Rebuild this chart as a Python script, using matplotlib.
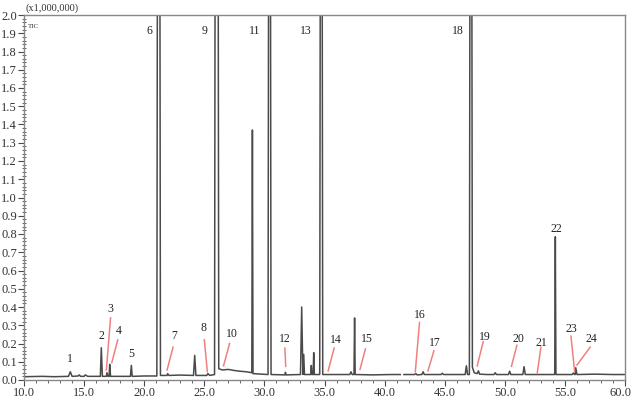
import numpy as np
import matplotlib.pyplot as plt
import matplotlib.transforms as mtransforms
from matplotlib.ticker import MultipleLocator

# trace: retention time (min) and intensity (x1,000,000)
tiempo = [10.0, 11.5, 12.5, 13.7, 13.85, 14.0, 14.5, 14.6, 14.7, 15.0, 15.1, 15.3,
          16.35, 16.43, 16.52, 16.85, 16.9, 16.98, 17.08, 17.13, 17.2,
          18.85, 18.93, 19.0, 20.0, 21.05, 21.1, 21.3, 21.35,
          21.9, 21.95, 22.05, 23.0, 24.1, 24.2, 24.3, 25.2, 25.3, 25.45,
          25.85, 25.9, 26.15, 26.2, 26.5, 27.0, 27.5, 28.0, 28.5, 28.95, 29.0, 29.05,
          30.3, 30.35, 30.5, 30.55, 31.7, 31.75, 31.8,
          33.0, 33.1, 33.2, 33.27, 33.33, 33.85, 33.9, 33.95, 34.05, 34.1, 34.15,
          34.6, 34.65, 34.8, 34.85, 36.0, 37.1, 37.2, 37.3, 37.45, 37.5, 37.55,
          39.0, 40.5, 41.3, 41.4, 41.6, 42.5, 42.6, 42.7, 43.1, 43.2, 43.3,
          44.7, 44.8, 44.9, 46.7, 46.8, 46.9, 47.05, 47.1, 47.25, 47.3, 47.45,
          47.7, 47.8, 47.9, 48.5, 49.1, 49.2, 49.3, 50.3, 50.4, 50.5,
          51.5, 51.6, 51.7, 53.0, 54.15, 54.2, 54.25, 55.6, 55.7, 55.8, 55.85,
          55.9, 56.0, 57.5, 59.0, 60.0]
intensidad = [0.018, 0.020, 0.018, 0.020, 0.045, 0.020, 0.022, 0.028, 0.020, 0.020, 0.028, 0.020,
              0.020, 0.177, 0.020, 0.020, 0.040, 0.020, 0.020, 0.086, 0.020,
              0.020, 0.080, 0.020, 0.022, 0.022, 2.5, 2.5, 0.025,
              0.025, 0.035, 0.025, 0.027, 0.025, 0.135, 0.025, 0.025, 0.035, 0.025,
              0.030, 2.5, 2.5, 0.062, 0.055, 0.058, 0.052, 0.048, 0.045, 0.040, 1.37, 0.035,
              0.030, 2.5, 2.5, 0.030, 0.028, 0.042, 0.028,
              0.030, 0.40, 0.030, 0.14, 0.030, 0.030, 0.080, 0.030, 0.030, 0.15, 0.030,
              0.030, 2.5, 2.5, 0.030, 0.030, 0.030, 0.045, 0.030, 0.030, 0.34, 0.030,
              0.028, 0.030, 0.030, np.nan, 0.030, 0.030, 0.035, 0.028, 0.030, 0.045, 0.030,
              0.030, 0.037, 0.030, 0.030, 0.078, 0.030, 0.030, 2.5, 2.5, 0.070, 0.040,
              0.035, 0.050, 0.032, 0.030, 0.030, 0.040, 0.030, 0.030, 0.048, 0.030,
              0.030, 0.073, 0.030, 0.030, 0.030, 0.785, 0.030, 0.030, 0.038, 0.030, 0.030,
              0.067, 0.030, 0.032, 0.030, 0.030]

# etiquetas de picos: numero, posicion del texto, y la linea roja (inicio, fin)
num_picos = ['1', '2', '5', '22']
pos_picos = [(13.85, 0.115), (16.4, 0.24), (18.95, 0.145), (54.25, 0.83)]

num_flechas = ['3', '4', '7', '8', '10', '12', '14', '15', '16', '17', '19', '20', '21', '23', '24']
pos_flechas = [(17.2, 0.39), (17.9, 0.27), (22.5, 0.24), (24.9, 0.285), (27.3, 0.25),
               (31.7, 0.225), (35.9, 0.22), (38.5, 0.225), (42.9, 0.355), (44.2, 0.205),
               (48.3, 0.235), (51.1, 0.225), (53.0, 0.205), (55.5, 0.28), (57.2, 0.225)]
linea_ini = [(17.2, 0.34), (17.8, 0.22), (22.4, 0.18), (25.0, 0.22), (27.1, 0.2),
             (31.7, 0.175), (35.8, 0.175), (38.4, 0.17), (42.9, 0.315), (44.1, 0.16),
             (48.2, 0.21), (51.0, 0.19), (53.0, 0.18), (55.5, 0.24), (57.1, 0.18)]
linea_fin = [(16.85, 0.055), (17.3, 0.095), (21.9, 0.055), (25.25, 0.045), (26.6, 0.078),
             (31.77, 0.075), (35.3, 0.05), (37.95, 0.058), (42.55, 0.045), (43.6, 0.05),
             (47.7, 0.077), (50.55, 0.075), (52.7, 0.04), (55.8, 0.05), (56.0, 0.082)]

num_altos = ['6', '9', '11', '13', '18']
pos_altos = [(20.7, 1.91), (25.3, 1.91), (29.7, 1.91), (33.9, 1.91), (46.55, 1.91)]

gris = '#4a4a4a'
fuente = 'Liberation Serif'

fig = plt.figure(figsize=(6.32, 4.0), dpi=100)
ax = fig.add_axes([0.038, 0.05, 0.951, 0.9125])
ax.plot(tiempo, intensidad, color=gris, lw=1.1)

for t, p in zip(num_picos, pos_picos):
    ax.text(p[0], p[1], t, ha='center', va='center', fontsize=8.5, family=fuente, color='#222222')
for t, p, a, b in zip(num_flechas, pos_flechas, linea_ini, linea_fin):
    ax.text(p[0], p[1], t, ha='center', va='center', fontsize=8.5, family=fuente, color='#222222')
    ax.plot([a[0], b[0]], [a[1], b[1]], color='#f08080', lw=1.1)
for t, p in zip(num_altos, pos_altos):
    ax.text(p[0], p[1], t, ha='right', va='center', fontsize=8.5, family=fuente, color='#222222')

ax.set_xlim(10, 60)
ax.set_ylim(0, 2.0)
ax.xaxis.set_minor_locator(MultipleLocator(1))
ax.yaxis.set_minor_locator(MultipleLocator(0.02))
ax.set_xticks(np.arange(10, 60.1, 5))
ax.set_xticklabels(['%.1f' % v for v in np.arange(10, 60.1, 5)])
ax.set_yticks(np.arange(0, 2.01, 0.1))
ax.set_yticklabels(['%.1f' % v for v in np.arange(0, 2.01, 0.1)])
for lab in ax.get_xticklabels() + ax.get_yticklabels():
    lab.set_family(fuente)
    lab.set_fontsize(9)
    lab.set_color('#333333')
ax.tick_params(which='major', length=4, width=0.8, color=gris, pad=1)
ax.tick_params(axis='y', which='minor', length=3, width=0.6, color=gris, direction='inout')
ax.tick_params(axis='x', which='minor', length=2, width=0.6, color=gris)
for s in ax.spines.values():
    s.set_color('#888888')
    s.set_linewidth(1.0)

# el ultimo rotulo (60.0) queda pegado al borde: se corre un poco a la izquierda
ultimo = ax.get_xticklabels()[-1]
ultimo.set_transform(ultimo.get_transform() +
                     mtransforms.ScaledTranslation(-0.05, 0, fig.dpi_scale_trans))

ax.text(0.003, 1.006, '(x1,000,000)', transform=ax.transAxes, fontsize=7.5,
        family=fuente, va='bottom', color='#333333')
ax.text(0.006, 0.975, 'TIC', transform=ax.transAxes, fontsize=5,
        family=fuente, va='top', color='#333333')

fig.savefig('out.png', dpi=100)
